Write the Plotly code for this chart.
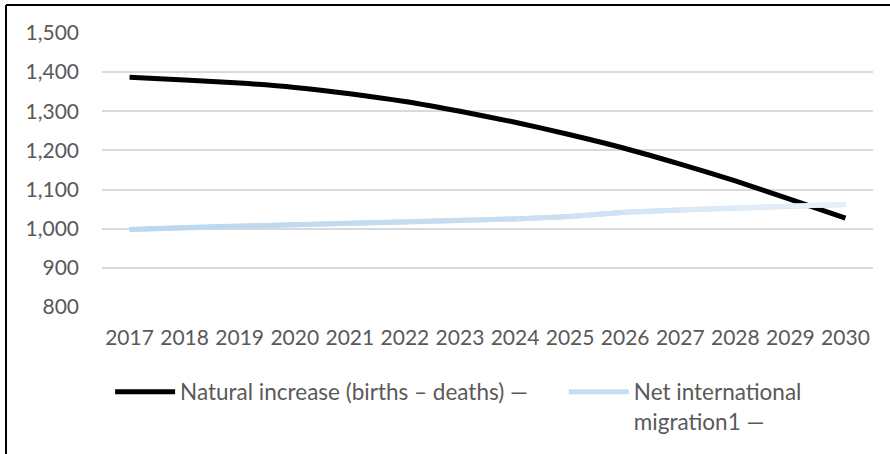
import plotly.graph_objects as go

years = ["2017", "2018", "2019", "2020", "2021", "2022", "2023",
         "2024", "2025", "2026", "2027", "2028", "2029", "2030"]
natural_increase = [1387, 1380, 1372, 1361, 1345, 1325, 1300,
                    1272, 1240, 1205, 1165, 1122, 1075, 1027]
net_migration = [998, 1003, 1007, 1010, 1014, 1017, 1021,
                 1025, 1031, 1042, 1048, 1053, 1058, 1062]
y_ticks = [800, 900, 1000, 1100, 1200, 1300, 1400, 1500]
series_names = ["Natural increase (births – deaths) —",
                "Net international<br>migration1 —"]

FONT = "Lato"
GREY = "#595959"

# light-blue gradient colours for the migration line segments
seg_colors = ["#bdd7ee", "#bed8ee", "#c0d9ef", "#c2daef", "#c4dbf0",
              "#c6dcf0", "#c8ddf1", "#cbdff1", "#d0e2f3", "#d6e6f4",
              "#dce9f6", "#e2edf8", "#e8f1fa"]

fig = go.Figure()

fig.add_trace(go.Scatter(
    x=years, y=natural_increase, mode="lines", name=series_names[0],
    line=dict(color="#000000", width=5, shape="spline", smoothing=0.6),
    legend="legend",
))
fig.add_trace(go.Scatter(
    x=years, y=net_migration, mode="lines", name=series_names[1],
    line=dict(color="#c6dcf0", width=5),
    legend="legend2",
))
for i in range(len(years) - 1):
    fig.add_trace(go.Scatter(
        x=years[i:i + 2], y=net_migration[i:i + 2], mode="lines",
        showlegend=False, hoverinfo="skip",
        line=dict(color=seg_colors[i], width=5),
    ))

legend_common = dict(
    orientation="h", yanchor="top", xanchor="left",
    font=dict(family=FONT, size=22.5, color=GREY),
    bgcolor="rgba(0,0,0,0)", itemwidth=60, valign="top",
)

fig.update_layout(
    width=890, height=454,
    margin=dict(l=102, r=17, t=33, b=147, autoexpand=False),
    paper_bgcolor="white", plot_bgcolor="white",
    font=dict(family=FONT, size=21, color=GREY),
    showlegend=True,
    legend=dict(x=0.0105, y=-0.232, **legend_common),
    legend2=dict(x=0.599, y=-0.232, **legend_common),
    xaxis=dict(
        type="category", range=[-0.5, 13.5],
        showgrid=False, showline=False, ticks="",
        tickfont=dict(family=FONT, size=21, color=GREY),
        ticklabelstandoff=16,
    ),
    yaxis=dict(
        range=[800, 1500], tickvals=y_ticks,
        tickformat=",d",
        showgrid=True, gridcolor="#d9d9d9", gridwidth=1.5,
        zeroline=False, showline=False, ticks="",
        tickfont=dict(family=FONT, size=21, color=GREY),
        ticklabelstandoff=22,
    ),
)

# outer chart frame: only its left and top edges fall inside the picture
fig.add_shape(type="line", xref="paper", yref="paper",
              x0=-0.1245, x1=-0.1245, y0=-1.0, y1=1.102,
              line=dict(color="#000000", width=2), layer="below")
fig.add_shape(type="line", xref="paper", yref="paper",
              x0=-0.1245, x1=1.5, y0=1.102, y1=1.102,
              line=dict(color="#000000", width=2), layer="below")

fig.write_html("out.html")
